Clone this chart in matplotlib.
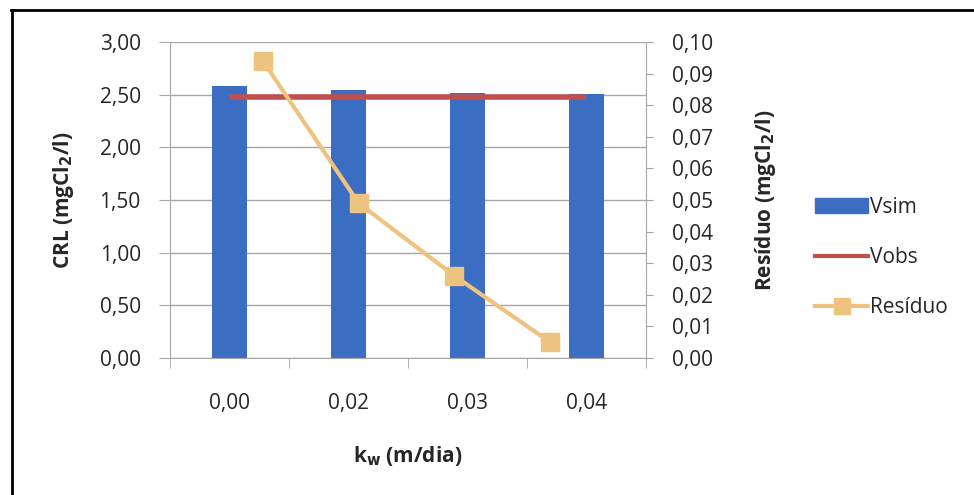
import matplotlib.pyplot as plt
from matplotlib.lines import Line2D
from matplotlib.patches import Patch
from matplotlib.ticker import FuncFormatter, MultipleLocator

plt.rcParams['font.family'] = ['Open Sans', 'DejaVu Sans']

# dados do ajuste de kw
kw_labels = ["0,00", "0,02", "0,03", "0,04"]
vsim = [2.58, 2.545, 2.52, 2.51]
vobs = [2.48, 2.48, 2.48, 2.48]
residuo = [0.094, 0.049, 0.026, 0.005]

BLUE = "#3b6dc3"
RED = "#bf504d"
TAN = "#eec37f"
GRID = "#a6a6a6"
TXT = "#262626"
FS = 15


def virgula(fmt):
    return FuncFormatter(lambda v, _: format(v, fmt).replace(".", ","))


fig = plt.figure(figsize=(9.74, 4.95), dpi=100)
ax = fig.add_axes([0.1745, 0.2768, 0.4887, 0.6384])

x = range(len(kw_labels))
ax.bar(x, vsim, width=0.30, color=BLUE, zorder=2)
ax.plot(x, vobs, color=RED, lw=4, solid_capstyle="butt", zorder=3)

ax.set_xlim(-0.5, 3.5)
ax.set_ylim(0, 3.0)
ax.yaxis.set_major_locator(MultipleLocator(0.5))
ax.yaxis.set_major_formatter(virgula(".2f"))
ax.grid(axis="y", color=GRID, lw=1, zorder=0)
ax.set_xticks(list(x))
ax.set_xticklabels(kw_labels)
ax.set_xticks([-0.5, 0.5, 1.5, 2.5, 3.5], minor=True)
ax.tick_params(axis="x", which="major", length=0, pad=25.5, labelsize=FS, labelcolor=TXT)
ax.tick_params(axis="x", which="minor", length=7, color=GRID, direction="out")
ax.tick_params(axis="y", length=8, color=GRID, pad=13, labelsize=FS, labelcolor=TXT)
for side in ["top", "right"]:
    ax.spines[side].set_visible(False)
for side in ["left", "bottom"]:
    ax.spines[side].set_color(GRID)

ax.set_ylabel("CRL (mgCl$_\\mathbf{2}$/l)", fontsize=FS, fontweight="bold", color=TXT)
ax.yaxis.set_label_coords(-0.198, 0.5)
ax.set_xlabel("k$_\\mathbf{w}$ (m/dia)", fontsize=FS, fontweight="bold", color=TXT)
ax.xaxis.set_label_coords(0.5, -0.273)

# eixo secundário para o resíduo
ax2 = ax.twinx()
ax2.set_ylim(0, 0.10)
ax2.yaxis.set_major_locator(MultipleLocator(0.01))
ax2.yaxis.set_major_formatter(virgula(".2f"))
ax2.tick_params(axis="y", length=5, color=GRID, pad=14, labelsize=FS, labelcolor=TXT)
for side in ["top", "left", "bottom"]:
    ax2.spines[side].set_visible(False)
ax2.spines["right"].set_color(GRID)
ax2.set_ylabel("Resíduo (mgCl$_\\mathbf{2}$/l)", fontsize=FS, fontweight="bold", color=TXT)
ax2.yaxis.set_label_coords(1.225, 0.5)

ax3 = ax2.twiny()
ax3.set_xlim(-0.97, 4.0)
ax3.plot(range(len(residuo)), residuo, color=TAN, lw=3, marker="s",
         markersize=13, markeredgecolor=TAN, zorder=4)
ax3.set_xticks([])
for side in ax3.spines:
    ax3.spines[side].set_visible(False)

handles = [
    Patch(color=BLUE, label="Vsim"),
    Line2D([], [], color=RED, lw=3, label="Vobs"),
    Line2D([], [], color=TAN, lw=3, marker="s", markersize=11, label="Resíduo"),
]
fig.legend(handles=handles, loc="center left", bbox_to_anchor=(0.818, 0.48),
           frameon=False, fontsize=FS, handlelength=2.5, handletextpad=0.1,
           labelspacing=1.4, labelcolor=TXT)

# moldura parcial (superior e esquerda)
fig.add_artist(Line2D([0.011, 1.0], [0.980, 0.980], color="black", lw=2))
fig.add_artist(Line2D([0.012, 0.012], [0.0, 0.980], color="black", lw=2))

fig.savefig("out.png", dpi=100)
